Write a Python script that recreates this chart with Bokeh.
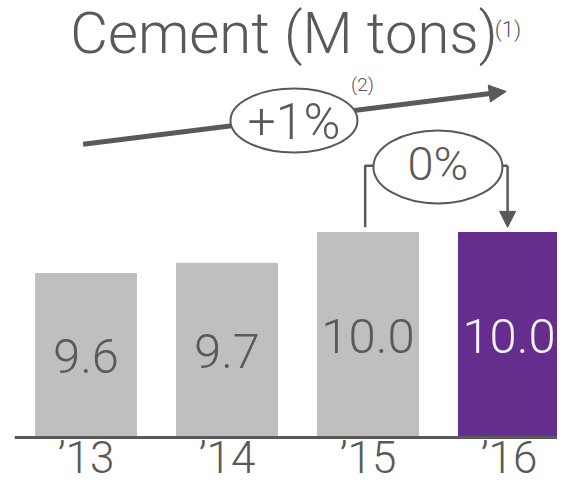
from bokeh.plotting import figure
from bokeh.models import Range1d, Arrow, NormalHead, ColumnDataSource, Span
from bokeh.core.properties import value
from bokeh.embed import file_html
from bokeh.resources import INLINE

# ---- data ----
years = ["\u201913", "\u201914", "\u201915", "\u201916"]
volumes = [9.6, 9.7, 10.0, 10.0]
cagr_text = "+1%"
change_text = "0%"
title_text = "Cement (M tons)"

xs = list(range(len(years)))
BASE = 8.0

FONT = value("Roboto Light")
GREY_TXT = "#595959"
bar_colors = ["#bfbfbf", "#bfbfbf", "#bfbfbf", "#652d8e"]
label_colors = [GREY_TXT, GREY_TXT, GREY_TXT, "#f2f2f2"]


def comp(size):
    # compensate the renderer's baseline shift
    return -round(0.37 * size)


p = figure(width=557, height=485, output_backend="svg", toolbar_location=None,
           x_range=Range1d(-0.507, 3.344), y_range=Range1d(7.5317, 12.2634),
           x_axis_location=None, y_axis_location=None,
           min_border_left=14, min_border_right=0,
           min_border_top=0, min_border_bottom=0, tools="")
p.outline_line_color = None
p.xgrid.visible = False
p.ygrid.visible = False
p.background_fill_color = "white"
p.border_fill_color = "white"

src = ColumnDataSource(dict(x=xs, top=volumes, color=bar_colors,
                            label=[f"{v:.1f}" for v in volumes],
                            ly=[(BASE + v) / 2 for v in volumes],
                            lcolor=label_colors,
                            year=years, yy=[BASE] * len(xs)))
p.vbar(x="x", top="top", bottom=BASE, width=0.716, color="color", source=src)
p.add_layout(Span(location=BASE, dimension="width", line_color=GREY_TXT, line_width=3))
p.text(x="x", y="ly", text="label", text_color="lcolor", source=src,
       text_font=FONT, text_font_size="49px", text_align="center",
       text_baseline="alphabetic", y_offset=19 + comp(49))
p.text(x="x", y="yy", text="year", text_color=GREY_TXT, source=src,
       text_font=FONT, text_font_size="44px", text_align="center",
       text_baseline="alphabetic", y_offset=37 + comp(44))

# title
p.text(x=[1.404], y=[11.737], text=[title_text], text_font=FONT,
       text_font_size="58px", text_color=GREY_TXT, text_align="center",
       text_baseline="alphabetic", y_offset=comp(58))
p.text(x=[2.993], y=[11.902], text=["(1)"], text_font=FONT,
       text_font_size="22px", text_color=GREY_TXT, text_align="center",
       text_baseline="alphabetic", y_offset=comp(22))

# long CAGR arrow (underneath ellipse)
long_arrow = Arrow(x_start=xs[0] - 0.02, y_start=10.86, x_end=xs[3] - 0.02, y_end=11.376,
                   line_color=GREY_TXT, line_width=5, level="underlay",
                   end=NormalHead(size=17, fill_color=GREY_TXT, line_color=GREY_TXT))
p.add_layout(long_arrow)
p.ellipse(x=[1.475], y=[11.093], width=[127], height=[64], width_units="screen",
          height_units="screen", fill_color="white", line_color=GREY_TXT, line_width=2)
p.text(x=[1.475], y=[10.907], text=[cagr_text], text_font=FONT, text_font_size="50px",
       text_color=GREY_TXT, text_align="center", text_baseline="alphabetic",
       y_offset=comp(50))
p.text(x=[1.961], y=[11.376], text=["(2)"], text_font=FONT, text_font_size="19px",
       text_color=GREY_TXT, text_align="center", text_baseline="alphabetic",
       y_offset=comp(19))

# bracket '15 -> '16
yb = 10.65
gap = 0.05
p.line(x=[xs[2] - 0.02, xs[2] - 0.02, 2.5], y=[volumes[2] + gap, yb, yb],
       line_color=GREY_TXT, line_width=2.5)
p.line(x=[2.5, xs[3] - 0.01], y=[yb, yb], line_color=GREY_TXT, line_width=2.5)
p.add_layout(Arrow(x_start=xs[3] - 0.01, y_start=yb, x_end=xs[3] - 0.01,
                   y_end=volumes[3] + gap, line_color=GREY_TXT, line_width=2.5,
                   end=NormalHead(size=16, fill_color=GREY_TXT, line_color=GREY_TXT)))
p.ellipse(x=[2.496], y=[10.64], width=[129], height=[73], width_units="screen",
          height_units="screen", fill_color="white", line_color=GREY_TXT, line_width=2)
p.text(x=[2.496], y=[10.507], text=[change_text], text_font=FONT, text_font_size="47px",
       text_color=GREY_TXT, text_align="center", text_baseline="alphabetic",
       y_offset=comp(47))

open("out.html", "w").write(file_html(p, INLINE))
